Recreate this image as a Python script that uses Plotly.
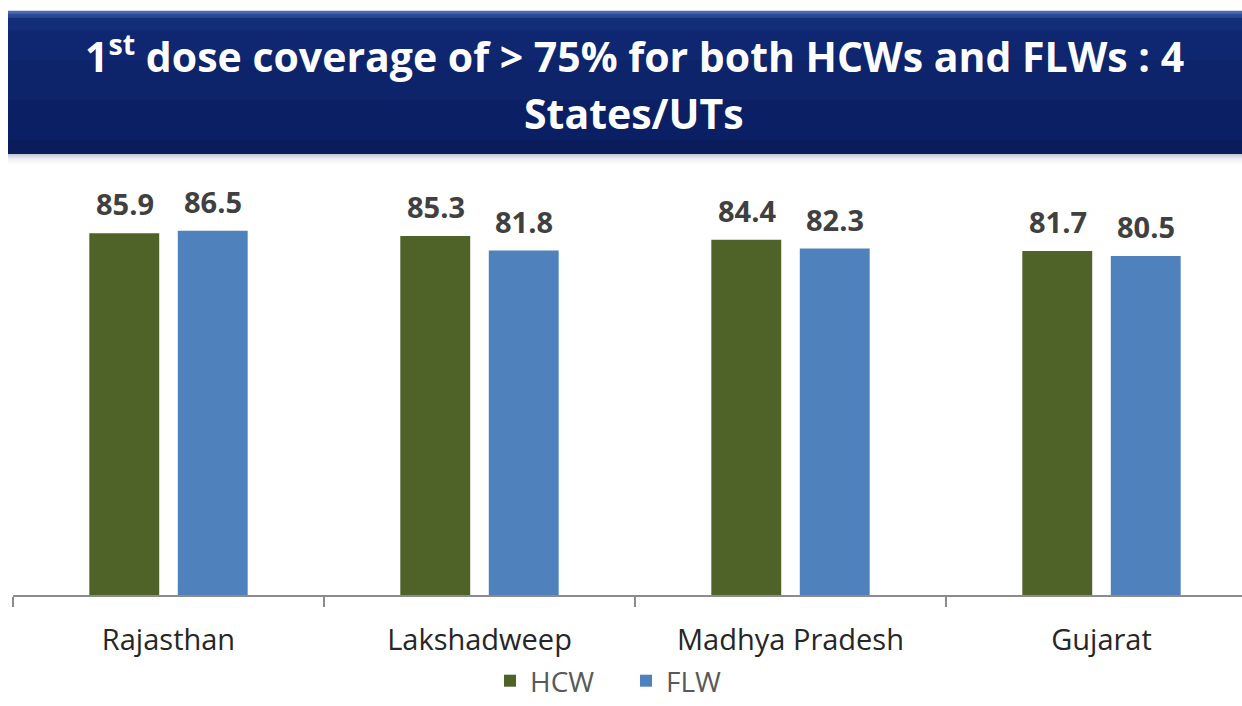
import plotly.graph_objects as go

categories = ["Rajasthan", "Lakshadweep", "Madhya Pradesh", "Gujarat"]
hcw = [85.9, 85.3, 84.4, 81.7]
flw = [86.5, 81.8, 82.3, 80.5]
series_names = ["HCW", "FLW"]
title_line1 = "1<sup>st</sup> dose coverage of > 75% for both HCWs and FLWs : 4"
title_line2 = "States/UTs"

W, H = 1242, 706
ML, MR, MT, MB = 13, 0, 174, 109
PW = W - ML - MR
PH = H - MT - MB


def px(x):
    return (x - ML) / PW


def py(y):
    return (H - MB - y) / PH


FONT = "Open Sans"
colors = ["#4F6228", "#4F81BD"]

fig = go.Figure()
for name, vals, col in zip(series_names, [hcw, flw], colors):
    fig.add_trace(go.Bar(
        x=categories, y=vals, name=name,
        marker=dict(color=col, line=dict(width=0)),
    ))

shapes = []
# shadow below banner
shadow_cols = ["#b8bcc8", "#cfd2da", "#e2e4ea", "#eff0f3", "#f7f8fa"]
for i, c in enumerate(shadow_cols):
    shapes.append(dict(type="rect", xref="paper", yref="paper", layer="below",
                       x0=px(8), x1=px(1242), y0=py(153 + 2 * (i + 1)), y1=py(153 + 2 * i - 0.5),
                       fillcolor=c, line=dict(width=0)))
# banner gradient bands
bands = [
    (10, 13, "#4a69b3"), (13, 17, "#2b4a98"), (17, 30, "#142d78"), (30, 60, "#0f2670"),
    (60, 100, "#0d236a"), (100, 140, "#0b2064"), (140, 153, "#0a1c5a"),
]
for y0, y1, c in bands:
    shapes.append(dict(type="rect", xref="paper", yref="paper", layer="below",
                       x0=px(8), x1=px(1242), y0=py(y1 + 1), y1=py(y0),
                       fillcolor=c, line=dict(width=0)))

annotations = [
    dict(text=title_line1, x=px(634), y=py(53), xref="paper", yref="paper",
         showarrow=False, xanchor="center", yanchor="middle",
         font=dict(family=FONT, size=41, color="white", weight="bold")),
    dict(text=title_line2, x=px(634), y=py(113), xref="paper", yref="paper",
         showarrow=False, xanchor="center", yanchor="middle",
         font=dict(family=FONT, size=41, color="white", weight="bold")),
]
# value labels above bars
for vals, shift in zip([hcw, flw], [-44, 44]):
    for cat, v in zip(categories, vals):
        annotations.append(dict(
            text=f"{v:.1f}", x=cat, y=v, xref="x", yref="y", xshift=shift, yshift=8,
            showarrow=False, xanchor="center", yanchor="bottom",
            font=dict(family=FONT, size=29, color="#404040", weight="bold"),
        ))

fig.update_layout(
    width=W, height=H,
    margin=dict(l=ML, r=MR, t=MT, b=MB, pad=0),
    paper_bgcolor="white", plot_bgcolor="white",
    barmode="group", bargap=0.431, bargroupgap=0.21,
    shapes=shapes, annotations=annotations,
    showlegend=True,
    legend=dict(orientation="h", x=px(490), xanchor="left", y=py(684), yanchor="middle",
                font=dict(family=FONT, size=28, color="#595959"), itemwidth=30,
                entrywidth=91, entrywidthmode="pixels",
                traceorder="normal", bgcolor="rgba(0,0,0,0)"),
    xaxis=dict(range=[-0.5, -0.5 + PW / 311.0], showline=True, linecolor="#8c8c8c", linewidth=1.5,
               ticks="outside", tickson="boundaries", ticklen=10, tickcolor="#8c8c8c", tickwidth=1.5,
               showgrid=False, zeroline=False,
               tickfont=dict(family=FONT, size=29, color="#262626"), ticklabelstandoff=18),
    yaxis=dict(range=[0, 100], visible=False, showgrid=False, zeroline=False),
)

fig.write_html("out.html", config={"displayModeBar": False},
               post_script="document.body.style.margin='0';")
